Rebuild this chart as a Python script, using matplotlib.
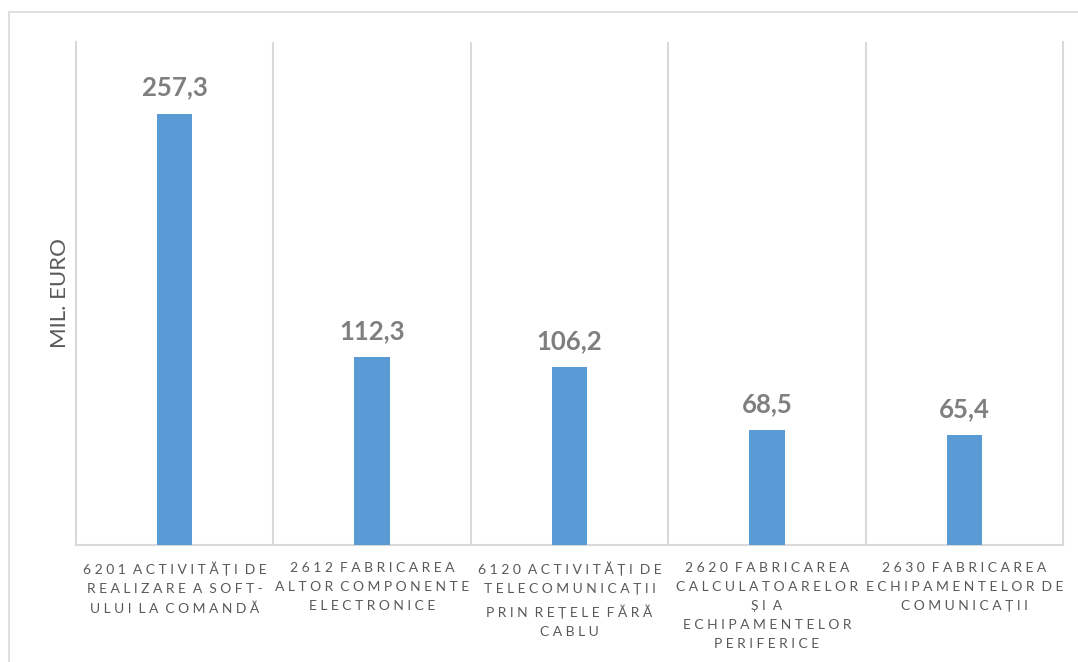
import matplotlib
matplotlib.use("Agg")
from matplotlib import pyplot as plt
from matplotlib.patches import Rectangle

plt.rcParams['font.family'] = ['Lato', 'DejaVu Sans']

categories = [
    "6201 ACTIVITĂȚI DE\nREALIZARE A SOFT-\nULUI LA COMANDĂ",
    "2612 FABRICAREA\nALTOR COMPONENTE\nELECTRONICE",
    "6120 ACTIVITĂȚI DE\nTELECOMUNICAȚII\nPRIN REȚELE FĂRĂ\nCABLU",
    "2620 FABRICAREA\nCALCULATOARELOR\nȘI A\nECHIPAMENTELOR\nPERIFERICE",
    "2630 FABRICAREA\nECHIPAMENTELOR DE\nCOMUNICAȚII",
]
values = [257.3, 112.3, 106.2, 68.5, 65.4]

bar_color = '#5B9BD5'
grid_color = '#D9D9D9'
text_grey = '#595959'
value_grey = '#7F7F7F'


def spaced(s):
    # fake letter spacing: space between letters, wider gap between words
    lines = []
    for line in s.split('\n'):
        words = [' '.join(w) for w in line.split(' ')]
        lines.append('  '.join(words))
    return '\n'.join(lines)


fig = plt.figure(figsize=(10.78, 6.62), dpi=100)
# outer chart border (only top/left visible in the crop)
fig.patches.append(Rectangle((9 / 1078, -0.1), 1.2, (662 - 12) / 662 + 0.1,
                             transform=fig.transFigure, fill=False,
                             edgecolor=grid_color, linewidth=1.2))

ax = fig.add_axes([76 / 1078, (662 - 545) / 662, (1063 - 76) / 1078, (545 - 42) / 662])

x = list(range(len(values)))
ax.bar(x, values, width=0.18, color=bar_color, zorder=3)

for xi, v in zip(x, values):
    ax.annotate(f"{v:.1f}".replace('.', ','), (xi, v), xytext=(0, 13),
                textcoords='offset points', ha='center', va='baseline',
                fontsize=18.5, fontweight='bold', color=value_grey)

ax.set_xlim(-0.5, len(values) - 0.5)
ax.set_ylim(0, 300)
ax.set_yticks([])
ax.set_xticks(x)
ax.set_xticks([i + 0.5 for i in x[:-1]], minor=True)
ax.tick_params(axis='x', which='both', length=0, pad=12)
ax.set_xticklabels([spaced(c) for c in categories], fontsize=10, color=text_grey)
for lbl in ax.get_xticklabels():
    lbl.set_linespacing(1.72)
ax.grid(True, axis='x', which='minor', color=grid_color, linewidth=1.5, zorder=0)

for side in ['left', 'right', 'bottom']:
    ax.spines[side].set_color(grid_color)
    ax.spines[side].set_linewidth(1.5)
ax.spines['top'].set_visible(False)

ax.set_ylabel("MIL. EURO", fontsize=16, color=text_grey)
ax.yaxis.set_label_coords(-0.006, 0.5)

fig.savefig("out.png", dpi=100)
